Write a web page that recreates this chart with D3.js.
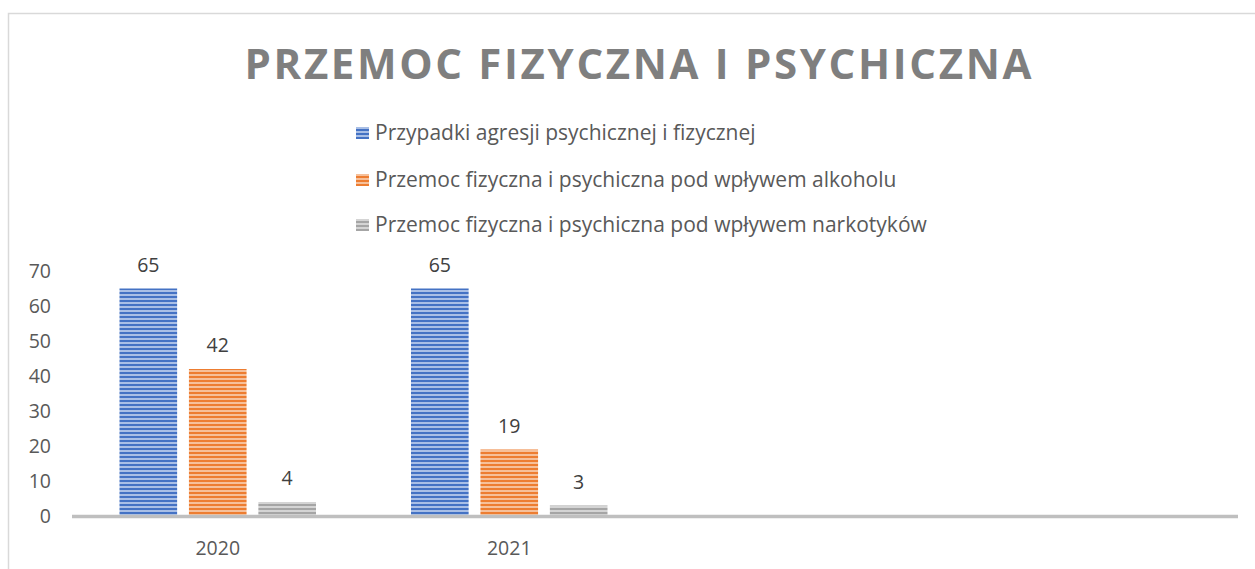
<!DOCTYPE html>
<html>
<head>
<meta charset="utf-8">
<script src="https://cdn.jsdelivr.net/npm/d3@7"></script>
<style>
  html, body { margin: 0; padding: 0; background: #fff; }
  svg { display: block; }
  text { font-family: "Open Sans", "Noto Sans", sans-serif; }
</style>
</head>
<body>
<svg id="chart" width="1255" height="569"></svg>
<script>
// ---- data ----
const title = "PRZEMOC FIZYCZNA I PSYCHICZNA";
const categories = ["2020", "2021", "", " "];
const seriesNames = [
  "Przypadki agresji psychicznej i fizycznej",
  "Przemoc fizyczna i psychiczna pod wpływem alkoholu",
  "Przemoc fizyczna i psychiczna pod wpływem narkotyków"
];
const agresja = [65, 65, null, null];
const alkohol = [42, 19, null, null];
const narkotyki = [4, 3, null, null];
const yTicks = [0, 10, 20, 30, 40, 50, 60, 70];

const seriesValues = [agresja, alkohol, narkotyki];
const colors = ["#4472c4", "#ed7d31", "#a5a5a5"];
const lightColors = ["#a9bfe6", "#f6c09a", "#d4d4d4"];

const svg = d3.select("#chart");
const W = 1255, H = 569;

// chart border
svg.append("rect")
  .attr("x", 8.5).attr("y", 13.5)
  .attr("width", W).attr("height", H)
  .attr("fill", "#fff").attr("stroke", "#d9d9d9").attr("stroke-width", 1.5);

// patterns (narrow horizontal stripes)
const defs = svg.append("defs");
colors.forEach((c, i) => {
  const p = defs.append("pattern")
    .attr("id", "pat" + i)
    .attr("patternUnits", "userSpaceOnUse")
    .attr("width", 8).attr("height", 4);
  p.append("rect").attr("width", 8).attr("height", 4).attr("fill", lightColors[i]);
  p.append("rect").attr("width", 8).attr("height", 2).attr("fill", c);
});

// scales
const plot = { left: 72, right: 1238, top: 271, bottom: 516 };
const x0 = d3.scaleBand().domain(categories).range([plot.left, plot.right]).paddingInner(0).paddingOuter(0);
const x1 = d3.scaleBand().domain(d3.range(seriesNames.length))
  .range([47.5, x0.bandwidth() - 47.5]).paddingInner(0.17).paddingOuter(0);
const y = d3.scaleLinear().domain([0, 70]).range([plot.bottom, plot.top]);

// title
const t = svg.append("text")
  .attr("x", 638).attr("y", 79)
  .attr("text-anchor", "middle")
  .attr("font-size", 42).attr("font-weight", 700)
  .attr("fill", "#7f7f7f")
  .text(title);
{
  const n = title.length;
  const w = t.node().getComputedTextLength();
  const target = 787;
  const ls = (target - w) / (n - 1);
  t.attr("letter-spacing", ls).attr("x", 638 + ls / 2);
}

// legend
const legendY = [133, 180, 225];
const legendTexts = [];
seriesNames.forEach((name, i) => {
  const g = svg.append("g").attr("transform", `translate(356, ${legendY[i]})`);
  g.append("rect").attr("x", 0).attr("y", -6).attr("width", 13).attr("height", 12)
    .attr("fill", `url(#pat${i})`);
  legendTexts.push(g.append("text").attr("x", 19).attr("y", 0).attr("dy", "0.35em")
    .attr("font-size", 18).attr("fill", "#595959").text(name));
});
{
  const w = legendTexts[0].node().getComputedTextLength();
  const fs = Math.min(21, 18 * 404 / w);
  legendTexts.forEach(tx => tx.attr("font-size", fs));
  const w2 = legendTexts[2].node().getComputedTextLength();
  const ls = (550 - w2) / (seriesNames[2].length - 1);
  if (ls > 0) legendTexts.forEach(tx => tx.attr("letter-spacing", Math.min(ls, 0.6)));
}

// y axis labels
const yAxis = d3.axisLeft(y).tickValues(yTicks).tickSize(0).tickPadding(0);
const yg = svg.append("g").attr("transform", "translate(51,0)").call(yAxis);
yg.select(".domain").remove();
yg.selectAll("text").attr("font-size", 19.5).attr("fill", "#595959")
  .attr("font-family", "\"Open Sans\", sans-serif");

// bars
seriesValues.forEach((vals, si) => {
  const data = categories.map((c, ci) => ({ c, v: vals[ci] })).filter(d => d.v != null);
  svg.append("g").selectAll("rect").data(data).join("rect")
    .attr("x", d => x0(d.c) + x1(si))
    .attr("y", d => y(d.v))
    .attr("width", x1.bandwidth())
    .attr("height", d => y(0) - y(d.v))
    .attr("fill", `url(#pat${si})`);
  svg.append("g").selectAll("text").data(data).join("text")
    .attr("x", d => x0(d.c) + x1(si) + x1.bandwidth() / 2)
    .attr("y", d => y(d.v) - 17)
    .attr("text-anchor", "middle")
    .attr("font-size", 19.5).attr("fill", "#404040")
    .text(d => d.v);
});

// x axis baseline
svg.append("line")
  .attr("x1", plot.left).attr("x2", plot.right)
  .attr("y1", y(0) + 0.5).attr("y2", y(0) + 0.5)
  .attr("stroke", "#bfbfbf").attr("stroke-width", 3.5);

// x labels
const xAxis = d3.axisBottom(x0).tickSize(0).tickPadding(0);
const xg = svg.append("g").attr("transform", `translate(0, ${plot.bottom + 25})`).call(xAxis);
xg.select(".domain").remove();
xg.selectAll("text").attr("font-size", 19.5).attr("fill", "#595959")
  .attr("font-family", "\"Open Sans\", sans-serif");
</script>
</body>
</html>
